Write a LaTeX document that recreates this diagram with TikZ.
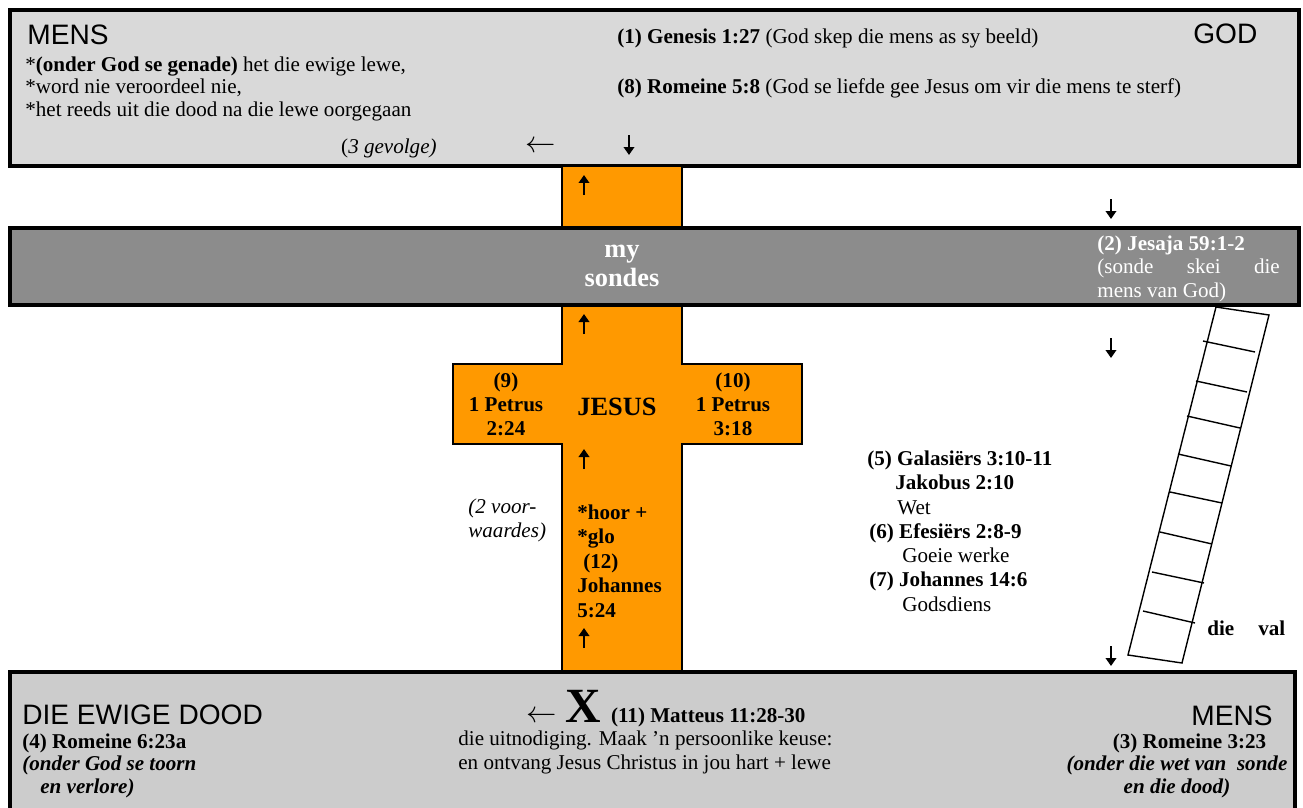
\documentclass[tikz,border=0pt]{standalone}
\usepackage{fontspec}
\setmainfont{Liberation Serif}
\setsansfont{Liberation Sans}
\usetikzlibrary{positioning, arrows.meta}
\definecolor{kruis}{RGB}{255,153,0}
\definecolor{bokant}{RGB}{217,217,217}
\definecolor{onderkant}{RGB}{204,204,204}
\definecolor{sondegrys}{RGB}{140,140,140}

\begin{document}
\begin{tikzpicture}[x=0.02cm, y=-0.02cm,
						box/.style={draw=black, line width=2.2pt},
						kruisvorm/.style={draw=black, line width=1.7pt, fill=kruis},
						txt/.style={inner sep=0pt, font=\fontsize{12}{13.7}\selectfont, align=left},
						heading/.style={inner sep=0pt, font=\sffamily\fontsize{16}{18}\selectfont},
						wyd/.style={inner sep=0pt, font=\fontsize{16}{16}\selectfont},
						ladder/.style={draw=black, line width=0.8pt},
						pylpunt/.style={line width=1.4pt, -{Triangle[length=0.16cm, width=0.21cm]}},
						oppyl/.pic={\draw[pylpunt] (0,10) -- (0,-10);},
						afpyl/.pic={\draw[pylpunt] (0,-10) -- (0,10);}
					]
					\useasboundingbox (0,0) rectangle (1303,808);
					\clip (0,0) rectangle (1303,808);
					% boonste blok: God
					\draw[box, fill=bokant] (10,10) rectangle (1299,166);
					% die kruis
					\draw[kruisvorm] (562,166) -- (562,364) -- (453,364) -- (453,444) -- (562,444) -- (562,672)
						-- (682,672) -- (682,444) -- (802,444) -- (802,364) -- (682,364) -- (682,166) -- cycle;
					% sonde-balk en onderste blok
					\draw[box, fill=sondegrys] (10,228) rectangle (1299,305);
					\draw[box, fill=onderkant] (10,672) rectangle (1295,840);

					\node[heading, anchor=base west] (mensbo) at (27,44) {MENS};
					\node[heading, anchor=base west] (god) at (1193,43) {GOD};
					\node[txt, font=\fontsize{12}{12.6}\selectfont, anchor=base west] (gevolge) at (25,116)
						{*\textbf{(onder God se genade)} het die ewige lewe,\\*word nie veroordeel nie,\\*het reeds uit die dood na die lewe oorgegaan};
					\node[txt, anchor=base east] (drie) at (437,153) {(\textit{3 gevolge)}};
					\node[wyd] (linksbo) at (541,147) {$\leftarrow$};
					\node[txt, anchor=base west] (genesis) at (617,43) {\textbf{(1) Genesis 1:27} (God skep die mens as sy beeld)};
					\node[txt, anchor=base west] (romeine) at (617,93) {\textbf{(8) Romeine 5:8} (God se liefde gee Jesus om vir die mens te sterf)};

					\node[txt, anchor=base, align=center, text=white, font=\bfseries\fontsize{15}{16.5}\selectfont] (sondes) at (622,286) {my\\sondes};
					\node[txt, anchor=base west, text=white, font=\fontsize{12}{13.1}\selectfont] (jesaja) at (1097,297)
						{\textbf{(2) Jesaja 59:1-2}\\\makebox[3.65cm][s]{(sonde skei die}\\mens van God)};

					% pyltjies
					\pic at (629,145) {afpyl};
					\foreach \py in {185, 324, 459, 638}
						\pic at (584,\py) {oppyl};
					\foreach \py in {209, 348, 656}
						\pic at (1111,\py) {afpyl};

					\node[txt, anchor=base, align=center, font=\bfseries\fontsize{12}{13.66}\selectfont] (petrus9) at (506,435) {(9)\\1 Petrus\\2:24};
					\node[txt, anchor=base west, font=\bfseries\fontsize{15}{17}\selectfont] (jesus) at (577,415) {JESUS};
					\node[txt, anchor=base, align=center, font=\bfseries\fontsize{12}{13.66}\selectfont] (petrus10) at (733,435) {(10)\\1 Petrus\\3:18};
					\node[txt, anchor=base west, font=\itshape\fontsize{12}{13.66}\selectfont] (voorwaardes) at (468,537) {(2 voor-\\waardes)};
					\node[txt, anchor=base west, font=\bfseries\fontsize{12}{13.94}\selectfont] (hoor) at (577,617)
						{*hoor +\\*glo\\\hspace*{0.12cm}(12)\\Johannes\\5:24};

					\node[txt, anchor=base west, font=\fontsize{12}{13.8}\selectfont] (wette) at (867,611)
						{\textbf{(5) Galasiërs 3:10-11}\\\hspace*{0.56cm}\textbf{Jakobus 2:10}\\\hspace*{0.6cm}Wet\\
						 \hspace*{0.04cm}\textbf{(6) Efesiërs 2:8-9}\\\hspace*{0.7cm}Goeie werke\\
						 \hspace*{0.04cm}\textbf{(7) Johannes 14:6}\\\hspace*{0.7cm}Godsdiens};

					% die leer
					\draw[ladder] (1216,307) -- (1269,315) -- (1182,663) -- (1128,655) -- cycle;
					\foreach \lx/\ly/\rx/\ry in {1203/341/1255/352, 1196/381/1247/392, 1187/416/1240/428, 1178/454/1231/466,
						1170/492/1222/503, 1160/532/1212/544, 1152/572/1204/583, 1143/611/1195/623}
						\draw[ladder] (\lx,\ly) -- (\rx,\ry);
					\node[txt, anchor=base west, font=\bfseries\fontsize{12}{13.7}\selectfont] (val) at (1207,635) {die\hspace{0.48cm}val};

					% onderste blok
					\node[heading, anchor=base west] (dood) at (22,724) {DIE EWIGE DOOD};
					\node[txt, anchor=base west, font=\bfseries\fontsize{12}{12.8}\selectfont] (toorn) at (22,793)
						{(4) Romeine 6:23a\\\textit{(onder God se toorn}\\\hspace*{0.36cm}\textit{en verlore)}};
					\node[txt, anchor=base west, font=\bfseries\fontsize{28}{30}\selectfont] (kruisX) at (565,722) {X};
					\node[wyd, base left=0.16cm of kruisX] (linksonder) {$\leftarrow$};
					\node[txt, base right=0.19cm of kruisX, font=\bfseries\fontsize{12}{13.7}\selectfont] (matteus) {(11) Matteus 11:28-30};
					\node[txt, anchor=base west, font=\fontsize{12}{13.1}\selectfont] (keuse) at (458,769)
						{die uitnodiging. Maak ’n persoonlike keuse:\\en ontvang Jesus Christus in jou hart + lewe};
					\node[heading, anchor=base east] (mensonder) at (1273,725) {MENS};
					\node[txt, anchor=base, align=center, font=\bfseries\fontsize{12}{12.8}\selectfont] (wetsonde) at (1177,793)
						{\hspace*{0.5cm}(3) Romeine 3:23\\\textit{(onder die wet van\ \ sonde}\\\textit{en die dood)}};
					\end{tikzpicture}
\end{document}
